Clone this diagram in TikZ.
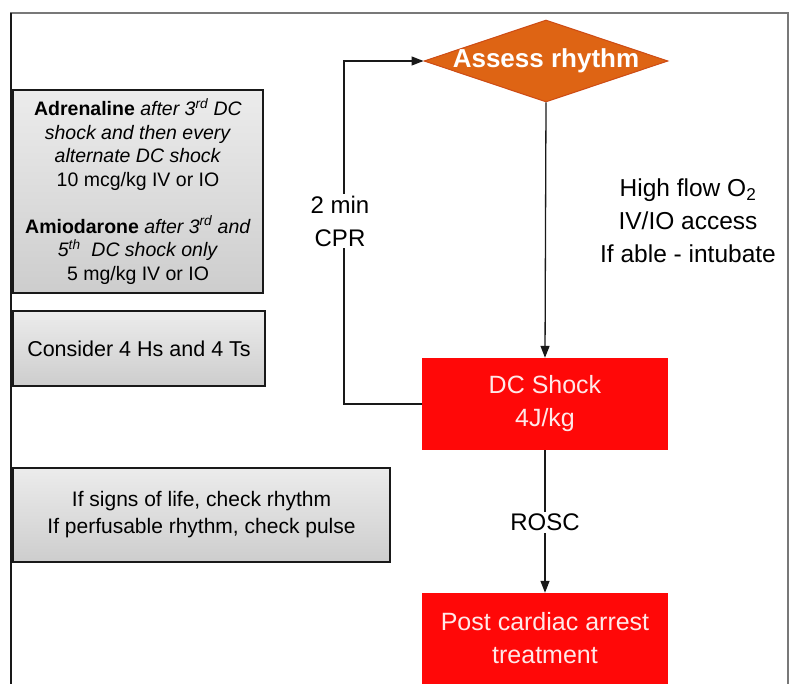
\documentclass[tikz,border=0pt]{standalone}
\usepackage{fontspec}
\setmainfont{Liberation Sans}
\usetikzlibrary{shapes.geometric,arrows.meta}

\definecolor{alsred}{RGB}{255,8,8}
\definecolor{alsorange}{RGB}{222,100,20}
\definecolor{alsorangeedge}{RGB}{205,75,20}
\definecolor{lineink}{RGB}{25,25,25}
\definecolor{boxtop}{RGB}{236,236,236}
\definecolor{boxbottom}{RGB}{205,205,205}
\definecolor{redtext}{RGB}{255,232,232}

\tikzset{
  infobox/.style={draw=lineink, line width=1.5pt, top color=boxtop, bottom color=boxbottom,
    align=center, inner sep=0pt, font=\fontsize{19.5}{23.5}\selectfont},
  redbox/.style={fill=alsred, draw=none, inner sep=0pt, text=redtext, align=center,
    font=\fontsize{25}{33}\selectfont},
  flowarrow/.style={draw=lineink, line width=1.3pt, -{Triangle[length=12pt,width=9pt]}},
  gaplabel/.style={fill=white, inner sep=2pt, align=center, font=\fontsize{24}{33}\selectfont},
  sidetext/.style={align=center, inner sep=0pt, font=\fontsize{24.5}{33}\selectfont},
}

\begin{document}
\begin{tikzpicture}[x=1pt, y=-1pt]
\useasboundingbox (0,0) rectangle (791,684);

% page frame
\draw[draw={rgb,255:red,120;green,120;blue,120}, line width=1.2pt] (11,684) -- (11,13) -- (788,13) -- (788,684);
\draw[draw={rgb,255:red,25;green,25;blue,25}, line width=2pt] (11,13) -- (11,684);

% side notes
\node[infobox, minimum width=250pt, minimum height=203pt] (drugs) at (138,191.5)
  {\textbf{Adrenaline} \textit{after 3\textsuperscript{rd} DC}\\
   \textit{shock and then every}\\
   \textit{alternate DC shock}\\
   10 mcg/kg IV or IO\\[23.5pt]
   \textbf{Amiodarone} \textit{after 3\textsuperscript{rd} and}\\
   \textit{5\textsuperscript{th}\ \ DC shock only}\\
   5 mg/kg IV or IO};

\node[infobox, minimum width=252pt, minimum height=75pt, font=\fontsize{21.5}{26}\selectfont] (hts) at (139,348.5)
  {Consider 4 Hs and 4 Ts};

\node[infobox, minimum width=377pt, minimum height=94pt, font=\fontsize{21}{27}\selectfont] (life) at (201.5,515)
  {If signs of life, check rhythm\\If perfusable rhythm, check pulse};

% main flow
\node[diamond, fill=alsorange, draw=alsorangeedge, line width=1pt, minimum width=244pt,
      minimum height=82pt, inner sep=0pt] (assess) at (546,61) {};
\node[text=white, inner sep=0pt, font=\bfseries\fontsize{26}{30}\selectfont] (assesstext) at (assess) {Assess rhythm};

\node[redbox, minimum width=246pt, minimum height=92pt] (dc) at (545,404)
  {DC Shock\\4J/kg};

\node[redbox, minimum width=246pt, minimum height=91pt] (post) at (545,638.5)
  {Post cardiac arrest\\treatment};

\node[sidetext] (support) at (688,221)
  {High flow O\textsubscript{2}\\IV/IO access\\If able - intubate};

% connectors
\coordinate (cprcorner) at (344,404);
\draw[flowarrow] (dc.west) -- (cprcorner) |- (assess.west);
\draw[flowarrow] (assess.south) -- (dc.north);
\draw[flowarrow] (dc.south) -- (post.north);

% connector labels
\node[gaplabel] (cpr) at (340,221) {2 min\\CPR};
\node[gaplabel] (rosc) at (545,522) {ROSC};
\end{tikzpicture}
\end{document}
